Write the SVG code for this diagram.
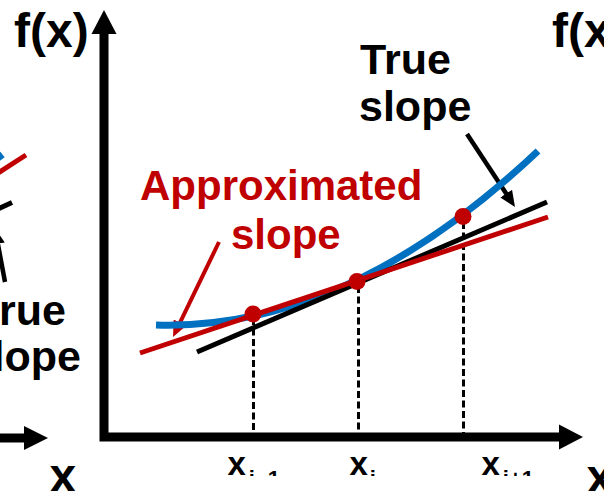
<svg xmlns="http://www.w3.org/2000/svg" width="604" height="491" viewBox="0 0 604 491">
<style>
  .lbl{font-family:"Liberation Sans",Arial,sans-serif;font-weight:bold;}
  .big{font-size:48px;fill:#000;}
  .cap{font-size:42px;}
  .cap2{font-size:43px;}
  .k{fill:#000;}
  .r{fill:#C00000;}
  .sub{font-size:33px;fill:#000;}
  .axis{fill:none;stroke:#000;stroke-width:9;stroke-linejoin:miter;}
  .head{fill:#000;}
  .blue{fill:none;stroke:#0070C0;stroke-width:7;}
  .red{fill:none;stroke:#C00000;stroke-width:5;}
  .blk{fill:none;stroke:#000;stroke-width:5;}
  .dash{fill:none;stroke:#000;stroke-width:3;stroke-dasharray:7 3.5;}
  .dot{fill:#C00000;}
  .ptr-r{fill:none;stroke:#C00000;stroke-width:4;}
  .ptr-k{fill:none;stroke:#000;stroke-width:4.5;}
</style>
<defs>
  <marker id="ahRed" markerUnits="userSpaceOnUse" markerWidth="16" markerHeight="14" refX="8" refY="7" orient="auto">
    <path d="M0,0 L16,7 L0,14 z" fill="#C00000"/>
  </marker>
  <marker id="ahBlk" markerUnits="userSpaceOnUse" markerWidth="16" markerHeight="14" refX="8" refY="7" orient="auto">
    <path d="M0,0 L16,7 L0,14 z" fill="#000"/>
  </marker>
  <clipPath id="labelClip"><rect x="0" y="0" width="604" height="476"/></clipPath>
</defs>

<!-- left partial panel -->
<g id="left-panel">
  <line class="blue" x1="-6" y1="161" x2="2.5" y2="154.5"/>
  <line class="red" x1="-2" y1="173" x2="26" y2="155"/>
  <line class="blk" x1="-2" y1="209" x2="12" y2="202.5"/>
  <line class="ptr-k" x1="5" y1="282" x2="-3.6" y2="235.9" marker-end="url(#ahBlk)"/>
  <text class="lbl cap2 k" x="66" y="325" text-anchor="end">rue</text>
  <text class="lbl cap2 k" x="81" y="370.5" text-anchor="end">lope</text>
  <line class="axis" x1="0" y1="438" x2="26" y2="438"/>
  <polygon class="head" points="48,438 24,426 24,450"/>
  <text class="lbl big" x="49.5" y="492">x</text>
</g>

<!-- main axes -->
<g id="axes">
  <polyline class="axis" points="104,32 104,437 561,437"/>
  <polygon class="head" points="104,10 116.5,34 91.5,34"/>
  <polygon class="head" points="583,437 559,424.5 559,449.5"/>
  <text class="lbl big" x="14" y="47">f(x)</text>
  <text class="lbl big" x="586.5" y="493">x</text>
</g>

<!-- right partial panel -->
<g id="right-panel">
  <text class="lbl big" x="552" y="47">f(x</text>
</g>

<g id="connectors">
  <line class="dash" x1="253.5" y1="318" x2="253.5" y2="433"/>
  <line class="dash" x1="358.5" y1="286" x2="358.5" y2="433"/>
  <line class="dash" x1="463.5" y1="222" x2="463.5" y2="433"/>
  <line class="ptr-r" x1="219" y1="242" x2="176.5" y2="329.8" marker-end="url(#ahRed)"/>
  <line class="ptr-k" x1="467" y1="134" x2="510.6" y2="200.3" marker-end="url(#ahBlk)"/>
</g>

<g id="curve">
  <path class="blue" d="M156,325 Q347.5,331 538,151"/>
</g>
<g id="true-slope-line">
  <line class="blk" x1="197" y1="352" x2="547" y2="202"/>
</g>
<g id="approx-slope-line">
  <line class="red" x1="140" y1="353" x2="548" y2="217"/>
</g>
<g id="points">
  <circle class="dot" cx="253" cy="314" r="8.5"/>
  <circle class="dot" cx="357" cy="281.5" r="8.5"/>
  <circle class="dot" cx="463" cy="216.5" r="8.5"/>
</g>

<g id="label-approx">
  <text class="lbl cap r" x="140" y="200">Approximated</text>
  <text class="lbl cap r" x="231" y="249">slope</text>
</g>
<g id="label-true">
  <text class="lbl cap2 k" x="360" y="74">True</text>
  <text class="lbl cap2 k" x="359" y="121">slope</text>
</g>

<g id="x-labels" clip-path="url(#labelClip)">
  <text class="lbl sub" x="227.5" y="475">x<tspan font-size="22" dx="3" dy="11">i−1</tspan></text>
  <text class="lbl sub" x="349.5" y="475">x<tspan font-size="22" dx="2" dy="11">i</tspan></text>
  <text class="lbl sub" x="481.5" y="475">x<tspan font-size="22" dx="3" dy="11">i+1</tspan></text>
</g>
</svg>
